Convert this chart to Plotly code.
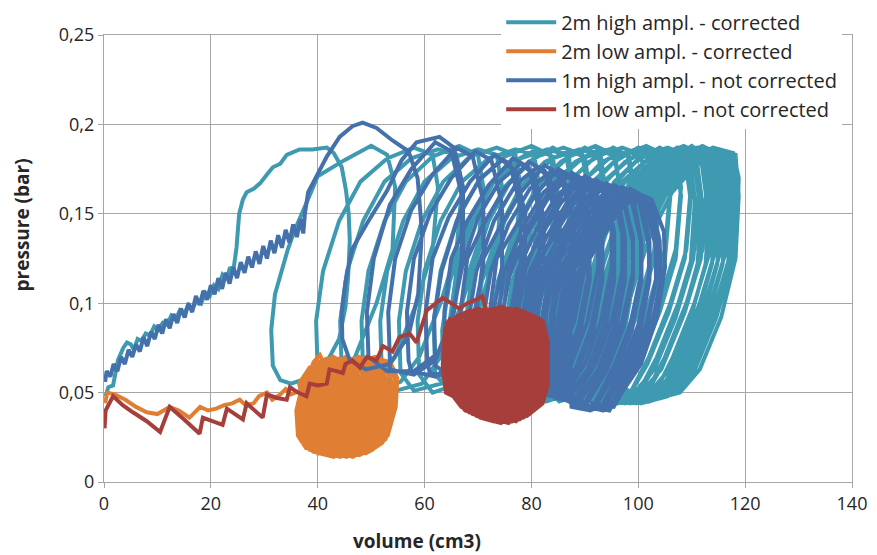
import plotly.graph_objects as go

# ---- data: (volume cm3, pressure bar) ----
series_names = ["2m high ampl. - corrected", "2m low ampl. - corrected",
                "1m high ampl. - not corrected", "1m low ampl. - not corrected"]
series_colors = ["#3E9AB0", "#E07F33", "#4471AC", "#A63F3C"]
x_ticks = [0, 20, 40, 60, 80, 100, 120, 140]
y_ticks = [0, 0.05, 0.1, 0.15, 0.2, 0.25]
x_title = "volume (cm3)"
y_title = "pressure (bar)"

high_2m = [
    (0.3,0.048),(0.8,0.053),(1.7,0.054),(2.6,0.068),(3.6,0.075),(4.3,0.078),(5.0,0.077),(5.6,0.074),
    (6.3,0.08),(7.0,0.079),(7.8,0.083),(8.6,0.082),(9.4,0.087),(10.2,0.085),(11.0,0.089),(11.8,0.088),
    (12.6,0.093),(13.4,0.091),(14.2,0.096),(15.0,0.094),(15.8,0.099),(16.6,0.097),(17.4,0.102),(18.2,0.1),
    (19.0,0.106),(19.8,0.104),(20.6,0.11),(21.4,0.108),(22.2,0.116),(23.0,0.114),(23.6,0.12),(24.2,0.118),
    (24.8,0.131),(25.3,0.15),(26.0,0.158),(26.7,0.162),(28.0,0.164),(29.2,0.167),(30.5,0.172),(31.6,0.176),
    (33.0,0.178),(34.2,0.183),(36.6,0.186),(39.0,0.186),(41.7,0.187),(43.0,0.184),(44.5,0.176),(45.3,0.163),
    (45.8,0.15),(46.0,0.135),(45.7,0.115),(45.2,0.098),(44.0,0.08),(41.5,0.066),(38.0,0.058),(35.0,0.055),(33.0,0.057),
    (31.6,0.065),(31.3,0.085),(32.0,0.105),(34.4,0.13),(35.7,0.141),(37.6,0.154),(40.0,0.171),(45.0,0.18),
    (50.0,0.188),(53.0,0.183),(54.5,0.165),(54.0,0.13),(51.0,0.1),(47.0,0.07),(43.5,0.056),(39.5,0.052),
    (40,0.062),(39.7,0.09),(41,0.118),(44,0.146),(48,0.168),(53,0.181),(58,0.187),(61.5,0.183),(62.5,0.165),(61.5,0.13),(58.5,0.1),(54.5,0.07),(51,0.056),(46,0.052),
    (44.5,0.062),(44.2,0.09),(45.5,0.118),(48.5,0.146),(52.5,0.168),(57.5,0.181),(62.5,0.186),(66,0.183),(67,0.165),(66,0.13),(63,0.1),(59,0.07),(55.5,0.056),(50.5,0.052),
    (48.5,0.062),(48.2,0.09),(49.5,0.118),(52.5,0.146),(56.5,0.168),(61.5,0.182),(66.5,0.188),(70,0.183),(71,0.165),(70,0.13),(67,0.1),(63,0.07),(59.5,0.055),(54.5,0.051),
    (52,0.061),(51.7,0.09),(53,0.118),(56,0.146),(60,0.168),(65,0.181),(70,0.186),(73.5,0.183),(74.5,0.165),(73.5,0.13),(70.5,0.1),(66.5,0.07),(63,0.055),(58,0.051),
    (55.5,0.061),(55.2,0.09),(56.5,0.118),(59.5,0.146),(63.5,0.168),(68.5,0.182),(73.5,0.187),(77,0.183),(78,0.165),(77,0.13),(74,0.1),(70,0.07),(66.5,0.055),(61.5,0.05),
    (59,0.06),(58.7,0.09),(60,0.118),(63,0.146),(67,0.168),(72,0.181),(77,0.186),(80.5,0.183),(81.5,0.165),(80.5,0.13),(77.5,0.1),(73.5,0.07),(70,0.054),(65,0.05),
    (62,0.06),(61.7,0.09),(63,0.118),(66,0.146),(70,0.168),(75,0.182),(80,0.188),(83.5,0.183),(84.5,0.165),(83.5,0.13),(80.5,0.1),(76.5,0.07),(73,0.054),(68,0.05),
    (63.5,0.058),(63.3,0.085),(64.7,0.112),(68,0.142),(72,0.165),(76.5,0.179),(81,0.186),(84,0.182),(85,0.16),(84,0.125),(81,0.095),(77,0.066),(73.5,0.052),(68.5,0.047),
    (65,0.06),(64.7,0.09),(66,0.118),(69,0.146),(73,0.168),(78,0.181),(83,0.186),(86.5,0.183),(87.5,0.165),(86.5,0.13),(83.5,0.1),(79.5,0.07),(76,0.054),(71,0.049),
    (66.5,0.058),(66.3,0.085),(67.7,0.112),(71,0.142),(75,0.165),(79.5,0.179),(84,0.187),(87,0.182),(88,0.16),(87,0.125),(84,0.095),(80,0.066),(76.5,0.052),(71.5,0.047),
    (68,0.059),(67.7,0.09),(69,0.118),(72,0.146),(76,0.168),(81,0.182),(86,0.187),(89.5,0.183),(90.5,0.165),(89.5,0.13),(86.5,0.1),(82.5,0.07),(79,0.053),(74,0.049),
    (69.5,0.057),(69.3,0.085),(70.7,0.112),(74,0.142),(78,0.165),(82.5,0.179),(87,0.185),(90,0.182),(91,0.16),(90,0.125),(87,0.095),(83,0.066),(79.5,0.051),(74.5,0.046),
    (71,0.059),(70.7,0.09),(72,0.118),(75,0.146),(79,0.168),(84,0.181),(89,0.186),(92.5,0.183),(93.5,0.165),(92.5,0.13),(89.5,0.1),(85.5,0.07),(82,0.053),(77,0.048),
    (72.5,0.057),(72.3,0.085),(73.7,0.112),(77,0.142),(81,0.165),(85.5,0.179),(90,0.187),(93,0.182),(94,0.16),(93,0.125),(90,0.095),(86,0.066),(82.5,0.051),(77.5,0.046),
    (74,0.058),(73.7,0.09),(75,0.118),(78,0.146),(82,0.168),(87,0.182),(92,0.188),(95.5,0.183),(96.5,0.165),(95.5,0.13),(92.5,0.1),(88.5,0.07),(85,0.053),(80,0.048),
    (75.2,0.056),(75,0.085),(76.4,0.112),(79.7,0.142),(83.7,0.165),(88.2,0.179),(92.7,0.186),(95.7,0.182),(96.7,0.16),(95.7,0.125),(92.7,0.095),(88.7,0.066),(85.2,0.05),(80.2,0.046),
    (76.5,0.058),(76.2,0.09),(77.5,0.118),(80.5,0.146),(84.5,0.168),(89.5,0.181),(94.5,0.186),(98,0.183),(99,0.165),(98,0.13),(95,0.1),(91,0.07),(87.5,0.052),(82.5,0.047),
    (77.8,0.056),(77.6,0.085),(79,0.112),(82.3,0.142),(86.3,0.165),(90.8,0.179),(95.3,0.187),(98.3,0.182),(99.3,0.16),(98.3,0.125),(95.3,0.095),(91.3,0.066),(87.8,0.05),(82.8,0.045),
    (79,0.057),(78.7,0.09),(80,0.118),(83,0.146),(87,0.168),(92,0.182),(97,0.187),(100.5,0.183),(101.5,0.165),(100.5,0.13),(97.5,0.1),(93.5,0.07),(90,0.052),(85,0.047),
    (80.2,0.055),(80,0.085),(81.4,0.112),(84.7,0.142),(88.7,0.165),(93.2,0.179),(97.7,0.185),(100.7,0.182),(101.7,0.16),(100.7,0.125),(97.7,0.095),(93.7,0.066),(90.2,0.05),(85.2,0.045),
    (81.5,0.057),(81.2,0.09),(82.5,0.118),(85.5,0.146),(89.5,0.168),(94.5,0.181),(99.5,0.186),(103,0.183),(104,0.165),(103,0.13),(100,0.1),(96,0.07),(92.5,0.051),(87.5,0.046),
    (82.5,0.055),(82.3,0.085),(83.7,0.112),(87,0.142),(91,0.165),(95.5,0.179),(100,0.187),(103,0.182),(104,0.16),(103,0.125),(100,0.095),(96,0.066),(92.5,0.049),(87.5,0.045),
    (83.5,0.056),(83.2,0.09),(84.5,0.118),(87.5,0.146),(91.5,0.168),(96.5,0.182),(101.5,0.188),(105,0.183),(106,0.165),(105,0.13),(102,0.1),(98,0.07),(94.5,0.051),(89.5,0.046),
    (84.5,0.055),(84.3,0.085),(85.7,0.112),(89,0.142),(93,0.165),(97.5,0.179),(102,0.186),(105,0.182),(106,0.16),(105,0.125),(102,0.095),(98,0.066),(94.5,0.049),(89.5,0.044),
    (85.5,0.056),(85.2,0.09),(86.5,0.118),(89.5,0.146),(93.5,0.168),(98.5,0.181),(103.5,0.186),(107,0.183),(108,0.165),(107,0.13),(104,0.1),(100,0.07),(96.5,0.05),(91.5,0.045),
    (86.5,0.054),(86.3,0.085),(87.7,0.112),(91,0.142),(95,0.165),(99.5,0.179),(104,0.187),(107,0.182),(108,0.16),(107,0.125),(104,0.095),(100,0.066),(96.5,0.049),(91.5,0.044),
    (87.5,0.055),(87.2,0.09),(88.5,0.118),(91.5,0.146),(95.5,0.168),(100.5,0.182),(105.5,0.187),(109,0.183),(110,0.165),(109,0.13),(106,0.1),(102,0.07),(98.5,0.05),(93.5,0.045),
    (88.2,0.054),(88,0.085),(89.4,0.112),(92.7,0.142),(96.7,0.165),(101.2,0.179),(105.7,0.185),(108.7,0.182),(109.7,0.16),(108.7,0.125),(105.7,0.095),(101.7,0.066),(98.2,0.048),(93.2,0.044),
    (88.8,0.052),(88.7,0.08),(90.3,0.108),(93.8,0.138),(97.8,0.162),(102.3,0.177),(106.6,0.185),(109.6,0.181),(110.6,0.158),(109.8,0.122),(107,0.092),(103,0.063),(99.3,0.05),(94.3,0.046),
    (89,0.055),(88.7,0.09),(90,0.118),(93,0.146),(97,0.168),(102,0.181),(107,0.186),(110.5,0.183),(111.5,0.165),(110.5,0.13),(107.5,0.1),(103.5,0.07),(100,0.05),(95,0.045),
    (89.8,0.054),(89.6,0.085),(91,0.112),(94.3,0.142),(98.3,0.165),(102.8,0.179),(107.3,0.187),(110.3,0.182),(111.3,0.16),(110.3,0.125),(107.3,0.095),(103.3,0.066),(99.8,0.048),(94.8,0.044),
    (90.1,0.052),(90,0.08),(91.6,0.108),(95.1,0.138),(99.1,0.162),(103.6,0.177),(107.9,0.186),(110.9,0.181),(111.9,0.158),(111.1,0.122),(108.3,0.092),(104.3,0.063),(100.6,0.05),(95.6,0.046),
    (90.5,0.055),(90.2,0.09),(91.5,0.118),(94.5,0.146),(98.5,0.168),(103.5,0.182),(108.5,0.188),(112,0.183),(113,0.165),(112,0.13),(109,0.1),(105,0.07),(101.5,0.05),(96.5,0.045),
    (91.2,0.053),(91,0.085),(92.4,0.112),(95.7,0.142),(99.7,0.165),(104.2,0.179),(108.7,0.186),(111.7,0.182),(112.7,0.16),(111.7,0.125),(108.7,0.095),(104.7,0.066),(101.2,0.048),(96.2,0.044),
    (91.6,0.052),(91.5,0.08),(93.1,0.108),(96.6,0.138),(100.6,0.162),(105.1,0.177),(109.4,0.185),(112.4,0.181),(113.4,0.158),(112.6,0.122),(109.8,0.092),(105.8,0.063),(102.1,0.05),(97.1,0.046),
    (92,0.054),(91.7,0.09),(93,0.118),(96,0.146),(100,0.168),(105,0.181),(110,0.186),(113.5,0.183),(114.5,0.165),(113.5,0.13),(110.5,0.1),(106.5,0.07),(103,0.049),(98,0.045),
    (92.5,0.053),(92.3,0.085),(93.7,0.112),(97,0.142),(101,0.165),(105.5,0.179),(110,0.188),(113,0.182),(114,0.16),(113,0.125),(110,0.095),(106,0.066),(102.5,0.048),(97.5,0.044),
    (92.8,0.052),(92.7,0.08),(94.3,0.108),(97.8,0.138),(101.8,0.162),(106.3,0.177),(110.6,0.186),(113.6,0.181),(114.6,0.158),(113.8,0.122),(111,0.092),(107,0.063),(103.3,0.05),(98.3,0.046),
    (93,0.054),(92.7,0.09),(94,0.118),(97,0.146),(101,0.168),(106,0.182),(111,0.187),(114.5,0.183),(115.5,0.165),(114.5,0.13),(111.5,0.1),(107.5,0.07),(104,0.049),(99,0.045),
    (93.5,0.053),(93.3,0.085),(94.7,0.112),(98,0.142),(102,0.165),(106.5,0.179),(111,0.186),(114,0.182),(115,0.16),(114,0.125),(111,0.095),(107,0.066),(103.5,0.048),(98.5,0.044),
    (93.8,0.052),(93.7,0.08),(95.3,0.108),(98.8,0.138),(102.8,0.162),(107.3,0.177),(111.6,0.185),(114.6,0.181),(115.6,0.158),(114.8,0.122),(112,0.092),(108,0.063),(104.3,0.05),(99.3,0.046),
    (94,0.054),(93.7,0.09),(95,0.118),(98,0.146),(102,0.168),(107,0.181),(112,0.188),(115.5,0.183),(116.5,0.165),(115.5,0.13),(112.5,0.1),(108.5,0.07),(105,0.049),(100,0.045),
    (94.5,0.053),(94.3,0.085),(95.7,0.112),(99,0.142),(103,0.165),(107.5,0.179),(112,0.187),(115,0.182),(116,0.16),(115,0.125),(112,0.095),(108,0.066),(104.5,0.048),(99.5,0.044),
    (94.8,0.052),(94.7,0.08),(96.3,0.108),(99.8,0.138),(103.8,0.162),(108.3,0.177),(112.6,0.186),(115.6,0.181),(116.6,0.158),(115.8,0.122),(113,0.092),(109,0.063),(105.3,0.05),(100.3,0.046),
    (95,0.054),(94.7,0.09),(96,0.118),(99,0.146),(103,0.168),(108,0.182),(113,0.186),(116.5,0.184),(117.5,0.165),(116.5,0.13),(113.5,0.1),(109.5,0.07),(106,0.049),(101,0.045),
    (95.5,0.053),(95.3,0.085),(96.7,0.112),(100,0.142),(104,0.165),(108.5,0.179),(113,0.186),(116,0.183),(117,0.16),(116,0.125),(113,0.095),(109,0.066),(105.5,0.048),(100.5,0.044),
    (95.8,0.052),(95.7,0.08),(97.3,0.108),(100.8,0.138),(104.8,0.162),(109.3,0.177),(113.6,0.185),(116.6,0.181),(117.6,0.158),(116.8,0.122),(114,0.092),(110,0.063),(106.3,0.05),(101.3,0.046),
    (96,0.054),(95.7,0.09),(97,0.118),(100,0.146),(104,0.168),(109,0.181),(114,0.187),(117.8,0.184),(118.8,0.17),(118.6,0.15),(117.5,0.13),(114.5,0.1),(110.5,0.07),(107,0.054),(102,0.047),
    (96.4,0.052),(96.3,0.08),(97.9,0.108),(101.4,0.138),(105.4,0.162),(109.9,0.177),(114.2,0.186),(117.2,0.182),(118.2,0.158),(117.4,0.122),(114.6,0.092),(110.6,0.063),(106.9,0.05),(101.9,0.046),
    (96.5,0.053),(96.3,0.085),(97.7,0.112),(101,0.142),(105,0.165),(109.5,0.179),(114,0.187),(117.5,0.184),(118.5,0.165),(117.5,0.128),(114.5,0.097),(110.5,0.068),(107,0.05),(102,0.045),
    (97,0.053),(96.8,0.085),(98.2,0.112),(101.5,0.142),(105.5,0.165),(110,0.18),(114.5,0.185),(118.2,0.183),(118.8,0.16),(117.8,0.13),(115,0.1),(111,0.07),(107.5,0.052),(103,0.046),
    (97.3,0.052),(97.2,0.08),(98.8,0.108),(102.3,0.138),(106.3,0.162),(110.8,0.177),(115.1,0.185),(118.1,0.182),(118.8,0.16),(118.2,0.125),(115.5,0.092),(111.5,0.063),(107.8,0.05),(102.8,0.046),(99,0.048),
]

low_2m = [
    (0.2,0.044),(0.6,0.05),(2.0,0.049),(4.0,0.046),(6.0,0.042),(8.0,0.039),(10.0,0.038),(12.3,0.042),
    (14.0,0.04),(16.0,0.036),(18.0,0.042),(19.5,0.04),(21.0,0.041),(22.5,0.043),(24.0,0.044),(25.4,0.046),
    (26.5,0.043),(28.0,0.044),(29.0,0.048),(30.5,0.05),(31.5,0.046),(33.0,0.049),(34.0,0.052),(35.0,0.049),
    (36.6,0.051),(37.5,0.055),(38.5,0.06),(39.2,0.067),(40.4,0.071),(41.2,0.066),(40.8,0.058),(39.5,0.05),
    (37,0.022),(36.5,0.035),(37.3,0.05),(39.5,0.061),(42,0.068),(45,0.065),(47,0.056),(47.5,0.042),(46.5,0.027),(44,0.017),(40,0.016),
    (36.5,0.055),(38.5,0.064),(41,0.066),(43.5,0.062),(44.8,0.052),(44.5,0.033),(43,0.019),(40.5,0.017),(37.8,0.019),(36.3,0.026),(36,0.04),
    (37.2,0.055),(39.2,0.066),(41.7,0.069),(44.2,0.065),(45.5,0.052),(45.2,0.033),(43.7,0.019),(41.2,0.016),(38.5,0.018),(37,0.026),(36.7,0.04),
    (37.8,0.055),(39.8,0.066),(42.3,0.067),(44.8,0.063),(46.1,0.052),(45.8,0.033),(44.3,0.019),(41.8,0.015),(39.1,0.017),(37.6,0.026),(37.3,0.04),
    (38.4,0.055),(40.4,0.066),(42.9,0.07),(45.4,0.066),(46.7,0.052),(46.4,0.033),(44.9,0.019),(42.4,0.015),(39.7,0.017),(38.2,0.026),(37.9,0.04),
    (39,0.055),(41,0.066),(43.5,0.068),(46,0.064),(47.3,0.052),(47,0.033),(45.5,0.019),(43,0.014),(40.3,0.016),(38.8,0.026),(38.5,0.04),
    (39.6,0.055),(41.6,0.066),(44.1,0.069),(46.6,0.065),(47.9,0.052),(47.6,0.033),(46.1,0.019),(43.6,0.015),(40.9,0.017),(39.4,0.026),(39.1,0.04),
    (40.2,0.055),(42.2,0.066),(44.7,0.067),(47.2,0.063),(48.5,0.052),(48.2,0.033),(46.7,0.019),(44.2,0.014),(41.5,0.016),(40,0.026),(39.7,0.04),
    (40.8,0.055),(42.8,0.066),(45.3,0.07),(47.8,0.066),(49.1,0.052),(48.8,0.033),(47.3,0.019),(44.8,0.015),(42.1,0.017),(40.6,0.026),(40.3,0.04),
    (41.4,0.055),(43.4,0.066),(45.9,0.068),(48.4,0.064),(49.7,0.052),(49.4,0.033),(47.9,0.019),(45.4,0.014),(42.7,0.016),(41.2,0.026),(40.9,0.04),
    (42,0.055),(44,0.066),(46.5,0.069),(49,0.065),(50.3,0.052),(50,0.033),(48.5,0.019),(46,0.015),(43.3,0.017),(41.8,0.026),(41.5,0.04),
    (42.6,0.055),(44.6,0.066),(47.1,0.068),(49.6,0.064),(50.9,0.052),(50.6,0.033),(49.1,0.019),(46.6,0.014),(43.9,0.016),(42.4,0.026),(42.1,0.04),
    (43.2,0.055),(45.2,0.066),(47.7,0.07),(50.2,0.066),(51.5,0.052),(51.2,0.033),(49.7,0.019),(47.2,0.015),(44.5,0.017),(43,0.026),(42.7,0.04),
    (43.8,0.055),(45.8,0.066),(48.3,0.068),(50.8,0.064),(52.1,0.052),(51.8,0.033),(50.3,0.019),(47.8,0.015),(45.1,0.017),(43.6,0.026),(43.3,0.04),
    (44.4,0.055),(46.4,0.066),(48.9,0.069),(51.4,0.065),(52.7,0.052),(52.4,0.034),(50.9,0.02),(48.4,0.016),(45.7,0.018),(44.2,0.027),(43.9,0.04),
    (45,0.055),(47,0.066),(49.5,0.068),(52,0.064),(53.3,0.053),(53,0.035),(51.5,0.021),(49,0.016),(46.3,0.018),(44.8,0.027),(44.5,0.04),
    (45.6,0.056),(47.6,0.066),(50.1,0.069),(52.6,0.066),(53.9,0.055),(53.6,0.037),(52.1,0.022),(49.6,0.017),(46.9,0.019),(45.4,0.028),(45.1,0.041),
    (46.2,0.057),(48.2,0.067),(50.7,0.07),(53.2,0.067),(54.5,0.057),(54.2,0.04),(52.7,0.024),(50.2,0.018),(47.5,0.02),(46,0.03),(45.7,0.042),
    (46.6,0.058),(48.6,0.067),(51.1,0.069),(53.6,0.067),(54.9,0.058),(54.6,0.042),(53.1,0.026),(50.6,0.019),(47.9,0.021),(46.4,0.03),(46.1,0.043),
    (44,0.035),(44.2,0.043),(45.5,0.046),(46.8,0.043),(46.5,0.036),(45.2,0.033),(44.3,0.036),
]

high_1m = [
    (0.2,0.056),(0.5,0.062),(1.2,0.059),(1.8,0.066),(2.5,0.062),(3.2,0.07),(3.9,0.066),(4.6,0.074),
    (5.3,0.07),(6.0,0.077),(6.7,0.073),(7.4,0.081),(8.1,0.076),(8.8,0.084),(9.5,0.08),(10.2,0.088),
    (10.9,0.083),(11.6,0.091),(12.3,0.086),(13.0,0.094),(13.7,0.089),(14.4,0.097),(15.1,0.092),(15.8,0.1),
    (16.5,0.095),(17.2,0.104),(17.9,0.099),(18.6,0.107),(19.3,0.102),(20.0,0.11),(20.7,0.105),(21.4,0.114),
    (22.1,0.108),(22.8,0.117),(23.5,0.111),(24.2,0.12),(24.9,0.114),(25.6,0.123),(26.3,0.117),(27.0,0.126),
    (27.7,0.12),(28.4,0.129),(29.1,0.122),(29.8,0.132),(30.5,0.125),(31.2,0.135),(31.9,0.128),(32.6,0.138),
    (33.3,0.131),(34.0,0.141),(34.7,0.134),(35.4,0.144),(36.1,0.137),(36.8,0.147),(37.3,0.139),(37.6,0.15),
    (38.2,0.162),(39.8,0.171),(41.7,0.182),(44.1,0.193),(46.5,0.199),(48.4,0.201),(51.0,0.198),(54.0,0.191),
    (57.0,0.185),(58.7,0.17),(59.5,0.14),(58.8,0.105),(57.0,0.082),(53.5,0.066),(49.0,0.063),(46.0,0.068),
    (44.6,0.08),(44.5,0.095),(45.2,0.112),(46.4,0.13),(49.3,0.145),(53.0,0.163),(55.7,0.18),(58.5,0.19),
    (62.8,0.193),(65.5,0.187),(67.2,0.165),(67.2,0.13),(65.5,0.095),(62.5,0.072),(58.0,0.062),(53.0,0.062),
    (49.5,0.07),(49.2,0.095),(50.5,0.125),(53.5,0.155),(57.5,0.175),(62,0.19),(65,0.185),(67,0.16),(67,0.12),(65,0.09),(62,0.068),(58,0.06),(53.5,0.063),
    (53.5,0.069),(53.2,0.095),(54.5,0.125),(57.5,0.152),(61.5,0.172),(66,0.187),(69,0.182),(71,0.157),(71,0.12),(69,0.09),(66,0.068),(62,0.059),(57.5,0.062),
    (57,0.068),(56.7,0.095),(58,0.125),(61,0.15),(65,0.17),(69.5,0.185),(72.5,0.18),(74.5,0.155),(74.5,0.12),(72.5,0.09),(69.5,0.068),(65.5,0.058),(61,0.061),
    (60.5,0.067),(60.2,0.095),(61.5,0.125),(64.5,0.148),(68.5,0.168),(73,0.183),(76,0.178),(78,0.153),(78,0.12),(76,0.09),(73,0.068),(69,0.057),(64.5,0.06),
    (62,0.065),(61.8,0.092),(63.2,0.118),(66.5,0.15),(70.5,0.17),(74.5,0.18),(77,0.174),(78.8,0.15),(78.8,0.115),(77,0.087),(74,0.064),(70,0.057),(65.8,0.06),
    (64,0.066),(63.7,0.095),(65,0.125),(68,0.146),(72,0.166),(76.5,0.181),(79.5,0.176),(81.5,0.151),(81.5,0.12),(79.5,0.09),(76.5,0.068),(72.5,0.056),(68,0.059),
    (65.5,0.064),(65.3,0.092),(66.7,0.118),(70,0.148),(74,0.168),(78,0.178),(80.5,0.172),(82.3,0.148),(82.3,0.115),(80.5,0.087),(77.5,0.064),(73.5,0.056),(69.3,0.059),
    (67,0.065),(66.7,0.095),(68,0.125),(71,0.144),(75,0.164),(79.5,0.179),(82.5,0.174),(84.5,0.149),(84.5,0.12),(82.5,0.09),(79.5,0.067),(75.5,0.055),(71,0.058),
    (68.5,0.062),(68.3,0.092),(69.7,0.118),(73,0.146),(77,0.166),(81,0.176),(83.5,0.17),(85.3,0.146),(85.3,0.115),(83.5,0.087),(80.5,0.064),(76.5,0.054),(72.3,0.057),
    (70,0.064),(69.7,0.095),(71,0.125),(74,0.142),(78,0.162),(82.5,0.177),(85.5,0.172),(87.5,0.147),(87.5,0.12),(85.5,0.09),(82.5,0.067),(78.5,0.054),(74,0.057),
    (71.2,0.061),(71,0.092),(72.4,0.118),(75.7,0.144),(79.7,0.164),(83.7,0.174),(86.2,0.168),(88,0.144),(88,0.115),(86.2,0.087),(83.2,0.064),(79.2,0.053),(75,0.056),
    (72.5,0.062),(72.2,0.095),(73.5,0.125),(76.5,0.14),(80.5,0.16),(85,0.175),(88,0.17),(90,0.145),(90,0.12),(88,0.09),(85,0.066),(81,0.052),(76.5,0.055),
    (73.8,0.059),(73.6,0.092),(75,0.118),(78.3,0.142),(82.3,0.162),(86.3,0.172),(88.8,0.166),(90.6,0.142),(90.6,0.115),(88.8,0.087),(85.8,0.063),(81.8,0.051),(77.6,0.054),
    (74.4,0.058),(74.3,0.09),(75.9,0.115),(79.4,0.143),(83.4,0.163),(87.2,0.172),(89.6,0.165),(90.9,0.143),(90.9,0.113),(89.2,0.085),(86.2,0.062),(82.2,0.05),(77.9,0.053),
    (75,0.06),(74.7,0.095),(76,0.122),(79,0.138),(83,0.158),(87.5,0.173),(90.5,0.168),(92.5,0.143),(92.5,0.12),(90.5,0.09),(87.5,0.066),(83.5,0.05),(79,0.053),
    (76.2,0.057),(76,0.092),(77.4,0.118),(80.7,0.14),(84.7,0.16),(88.7,0.17),(91.2,0.164),(93,0.14),(93,0.115),(91.2,0.087),(88.2,0.063),(84.2,0.049),(80,0.052),
    (76.8,0.056),(76.7,0.09),(78.3,0.115),(81.8,0.141),(85.8,0.161),(89.6,0.17),(92,0.163),(93.3,0.141),(93.3,0.113),(91.6,0.085),(88.6,0.062),(84.6,0.048),(80.3,0.051),
    (77.5,0.058),(77.2,0.095),(78.5,0.12),(81.5,0.136),(85.5,0.156),(90,0.171),(93,0.166),(95,0.141),(95,0.12),(93,0.09),(90,0.066),(86,0.048),(81.5,0.051),
    (78.5,0.055),(78.3,0.092),(79.7,0.118),(83,0.138),(87,0.158),(91,0.168),(93.5,0.162),(95.3,0.138),(95.3,0.115),(93.5,0.087),(90.5,0.063),(86.5,0.047),(82.3,0.05),
    (79,0.054),(78.9,0.09),(80.5,0.115),(84,0.139),(88,0.159),(91.8,0.168),(94.2,0.161),(95.5,0.139),(95.5,0.113),(93.8,0.085),(90.8,0.062),(86.8,0.046),(82.5,0.049),
    (79.5,0.056),(79.2,0.095),(80.5,0.12),(83.5,0.134),(87.5,0.154),(92,0.169),(95,0.164),(97,0.139),(97,0.118),(95,0.09),(92,0.066),(88,0.046),(83.5,0.049),
    (80.5,0.053),(80.3,0.092),(81.7,0.118),(85,0.136),(89,0.156),(93,0.166),(95.5,0.16),(97.3,0.136),(97.3,0.114),(95.5,0.087),(92.5,0.063),(88.5,0.045),(84.3,0.048),
    (81,0.052),(80.9,0.09),(82.5,0.115),(86,0.137),(90,0.157),(93.8,0.166),(96.2,0.159),(97.5,0.137),(97.5,0.113),(95.8,0.085),(92.8,0.062),(88.8,0.044),(84.5,0.047),
    (81.5,0.054),(81.2,0.095),(82.5,0.12),(85.5,0.132),(89.5,0.152),(94,0.167),(97,0.162),(99,0.137),(99,0.117),(97,0.09),(94,0.066),(90,0.044),(85.5,0.047),
    (82.2,0.051),(82,0.092),(83.4,0.118),(86.7,0.134),(90.7,0.154),(94.7,0.164),(97.2,0.158),(99,0.134),(99,0.114),(97.2,0.086),(94.2,0.063),(90.2,0.043),(86,0.046),
    (83,0.052),(82.7,0.095),(84,0.12),(87,0.131),(91,0.151),(95.5,0.166),(98.5,0.161),(100.5,0.136),(100.5,0.116),(98.5,0.088),(95.5,0.065),(91.5,0.042),(87,0.045),
    (83.8,0.05),(83.6,0.092),(85,0.118),(88.3,0.133),(92.3,0.153),(96.3,0.163),(98.8,0.157),(100.6,0.133),(100.6,0.113),(98.8,0.086),(95.8,0.063),(91.8,0.042),(87.6,0.045),
    (84,0.049),(83.9,0.09),(85.5,0.115),(89,0.135),(93,0.155),(96.8,0.164),(99.2,0.157),(100.5,0.135),(100.5,0.113),(98.8,0.085),(95.8,0.062),(91.8,0.041),(87.5,0.044),
    (84.5,0.051),(84.2,0.095),(85.5,0.12),(88.5,0.13),(92.5,0.15),(97,0.165),(100,0.16),(102,0.135),(102,0.116),(100,0.088),(97,0.065),(93,0.041),(88.5,0.044),
    (85.2,0.049),(85,0.092),(86.4,0.118),(89.7,0.132),(93.7,0.152),(97.7,0.162),(100.2,0.156),(102,0.132),(102,0.113),(100.2,0.086),(97.2,0.063),(93.2,0.041),(89,0.044),
    (85.6,0.048),(85.5,0.09),(87.1,0.115),(90.6,0.134),(94.6,0.154),(98.4,0.163),(100.8,0.156),(102.1,0.134),(102.1,0.113),(100.4,0.085),(97.4,0.062),(93.4,0.04),(89.1,0.043),
    (86,0.05),(85.7,0.095),(87,0.12),(90,0.129),(94,0.149),(98.5,0.164),(101.5,0.159),(103.5,0.134),(103.5,0.115),(101.5,0.088),(98.5,0.065),(94.5,0.04),(90,0.043),
    (86.5,0.048),(86.3,0.092),(87.7,0.118),(91,0.131),(95,0.151),(99,0.161),(101.5,0.155),(103.3,0.131),(103.3,0.112),(101.5,0.086),(98.5,0.063),(94.5,0.04),(90.3,0.043),
    (86.8,0.048),(86.7,0.09),(88.3,0.115),(91.8,0.133),(95.8,0.153),(99.6,0.162),(102,0.155),(103.3,0.133),(103.3,0.113),(101.6,0.085),(98.6,0.062),(94.6,0.04),(90.3,0.043),
    (87,0.05),(86.7,0.095),(88,0.12),(91,0.127),(95,0.147),(99.5,0.162),(102.5,0.158),(104.8,0.14),(105,0.12),(103.5,0.092),(100.5,0.066),(96,0.046),(91,0.04),(87.5,0.042),
    (87.4,0.049),(87.3,0.09),(88.9,0.115),(92.4,0.132),(96.4,0.152),(100.2,0.161),(102.6,0.154),(104,0.135),(104.2,0.113),(102.4,0.086),(99.4,0.063),(95.4,0.042),(91,0.044),
]

low_1m = [
    (0.1,0.03),(0.3,0.04),(1.7,0.048),(3.5,0.043),(5.4,0.039),(8.0,0.034),(10.5,0.028),(12.3,0.042),
    (15.0,0.035),(17.9,0.027),(18.5,0.036),(20.5,0.034),(22.2,0.032),(23.0,0.041),(24.5,0.038),(26.0,0.035),
    (26.7,0.044),(28.2,0.04),(29.7,0.036),(30.5,0.049),(32.4,0.047),(34.2,0.046),(34.8,0.053),(36.3,0.05),
    (37.9,0.048),(38.5,0.055),(40.0,0.054),(41.7,0.055),(42.2,0.063),(43.5,0.062),(44.7,0.061),(45.2,0.066),
    (46.5,0.068),(47.9,0.064),(49.2,0.07),(51.0,0.068),(52.2,0.076),(54.0,0.073),(55.3,0.081),(57.2,0.083),
    (58.5,0.078),(60.4,0.096),(61.8,0.099),(63.4,0.103),(65.0,0.1),(66.5,0.097),(68.0,0.1),(69.7,0.102),
    (70.8,0.104),(71.6,0.096),(71.2,0.083),(70.0,0.065),(68.0,0.05),(66.0,0.047),(64.0,0.05),(63.4,0.065),
    (63.8,0.085),(65.0,0.092),
    (64,0.088),(65.5,0.091),(68,0.094),(70.5,0.091),(71.5,0.08),(71.5,0.055),(70.5,0.046),(68,0.046),(65.5,0.048),(64.2,0.052),(63.7,0.068),
    (64.7,0.088),(66.2,0.093),(68.7,0.096),(71.2,0.093),(72.2,0.08),(72.2,0.055),(71.2,0.044),(68.7,0.043),(66.2,0.045),(64.9,0.05),(64.4,0.068),
    (65.4,0.088),(66.9,0.092),(69.4,0.095),(71.9,0.092),(72.9,0.08),(72.9,0.055),(71.9,0.042),(69.4,0.04),(66.9,0.042),(65.6,0.047),(65.1,0.068),
    (66.1,0.088),(67.6,0.094),(70.1,0.097),(72.6,0.094),(73.6,0.08),(73.6,0.055),(72.6,0.041),(70.1,0.038),(67.6,0.04),(66.3,0.045),(65.8,0.068),
    (66.8,0.088),(68.3,0.092),(70.8,0.095),(73.3,0.092),(74.3,0.08),(74.3,0.055),(73.3,0.041),(70.8,0.037),(68.3,0.039),(67,0.045),(66.5,0.068),
    (67.5,0.088),(69,0.094),(71.5,0.097),(74,0.094),(75,0.08),(75,0.055),(74,0.04),(71.5,0.036),(69,0.038),(67.7,0.045),(67.2,0.068),
    (68.2,0.088),(69.7,0.093),(72.2,0.096),(74.7,0.093),(75.7,0.08),(75.7,0.055),(74.7,0.04),(72.2,0.035),(69.7,0.037),(68.4,0.045),(67.9,0.068),
    (68.9,0.088),(70.4,0.094),(72.9,0.097),(75.4,0.094),(76.4,0.08),(76.4,0.055),(75.4,0.04),(72.9,0.034),(70.4,0.036),(69.1,0.045),(68.6,0.068),
    (69.6,0.088),(71.1,0.093),(73.6,0.096),(76.1,0.093),(77.1,0.08),(77.1,0.055),(76.1,0.04),(73.6,0.034),(71.1,0.036),(69.8,0.045),(69.3,0.068),
    (70.3,0.088),(71.8,0.095),(74.3,0.098),(76.8,0.095),(77.8,0.08),(77.8,0.055),(76.8,0.04),(74.3,0.033),(71.8,0.035),(70.5,0.045),(70,0.068),
    (71,0.088),(72.5,0.093),(75,0.096),(77.5,0.093),(78.5,0.08),(78.5,0.055),(77.5,0.04),(75,0.034),(72.5,0.036),(71.2,0.045),(70.7,0.068),
    (71.7,0.088),(73.2,0.094),(75.7,0.097),(78.2,0.094),(79.2,0.08),(79.2,0.055),(78.2,0.04),(75.7,0.033),(73.2,0.035),(71.9,0.045),(71.4,0.068),
    (72.4,0.088),(73.9,0.093),(76.4,0.096),(78.9,0.093),(79.9,0.08),(79.9,0.055),(78.9,0.04),(76.4,0.034),(73.9,0.036),(72.6,0.045),(72.1,0.068),
    (73.1,0.088),(74.6,0.094),(77.1,0.097),(79.6,0.094),(80.6,0.08),(80.6,0.055),(79.6,0.041),(77.1,0.034),(74.6,0.036),(73.3,0.045),(72.8,0.068),
    (73.8,0.088),(75.3,0.093),(77.8,0.096),(80.3,0.093),(81.3,0.08),(81.3,0.055),(80.3,0.041),(77.8,0.035),(75.3,0.037),(74,0.045),(73.5,0.068),
    (74.5,0.088),(76,0.092),(78.5,0.095),(81,0.092),(82,0.08),(82,0.055),(81,0.042),(78.5,0.036),(76,0.038),(74.7,0.045),(74.2,0.068),
    (75.2,0.087),(76.7,0.091),(79.2,0.094),(81.7,0.091),(82.7,0.079),(82.7,0.055),(81.7,0.043),(79.2,0.037),(76.7,0.039),(75.4,0.046),(74.9,0.068),
    (75.6,0.086),(77.1,0.09),(79.6,0.093),(82.1,0.09),(83.1,0.078),(83.1,0.055),(82.1,0.044),(79.6,0.038),(77.1,0.04),(75.8,0.047),(75.3,0.068),
]

all_series = [high_2m, low_2m, high_1m, low_1m]

FONT = "Open Sans"
TXT = "#262626"
GRID = "#A6A6A6"

fig = go.Figure()
for i, (name, pts, color) in enumerate(zip(series_names, all_series, series_colors)):
    fig.add_trace(go.Scatter(
        x=[p[0] for p in pts], y=[p[1] for p in pts],
        mode="lines", name=name, legendgroup=f"g{i}",
        line=dict(color=color, width=4),
    ))

axis_common = dict(
    showgrid=True, gridcolor=GRID, gridwidth=1.3,
    showline=True, linecolor=GRID, linewidth=1.3, mirror=True,
    ticks="outside", ticklen=5, tickcolor=GRID, zeroline=False,
    tickfont=dict(size=18, family=FONT, color=TXT),
)

# the page body keeps an 8 px margin, so the figure is 8 px smaller than the window
fig.update_layout(
    width=869, height=547,
    margin=dict(l=96, r=25, t=27, b=73, autoexpand=False),
    paper_bgcolor="white", plot_bgcolor="white",
    separators=",.",
    font=dict(family=FONT, color=TXT),
    showlegend=True,
    legend=dict(
        x=0.531, y=1.072, xanchor="left", yanchor="top",
        bgcolor="white", borderwidth=0,
        font=dict(family=FONT, size=20, color=TXT),
        traceorder="grouped", tracegroupgap=0,
        itemwidth=50,
    ),
    xaxis=dict(range=[0, 140], tickvals=x_ticks, **axis_common),
    yaxis=dict(range=[0, 0.25], tickvals=y_ticks, **axis_common),
    annotations=[
        dict(text=f"<b>{x_title}</b>", xref="paper", yref="paper", x=0.418, y=-0.132,
             xanchor="center", yanchor="middle", showarrow=False,
             font=dict(size=19, family=FONT, color=TXT)),
        dict(text=f"<b>{y_title}</b>", xref="paper", yref="paper", x=-0.109, y=0.575,
             xanchor="center", yanchor="middle", showarrow=False, textangle=-90,
             font=dict(size=19, family=FONT, color=TXT)),
    ],
)

fig.write_html("out.html")
